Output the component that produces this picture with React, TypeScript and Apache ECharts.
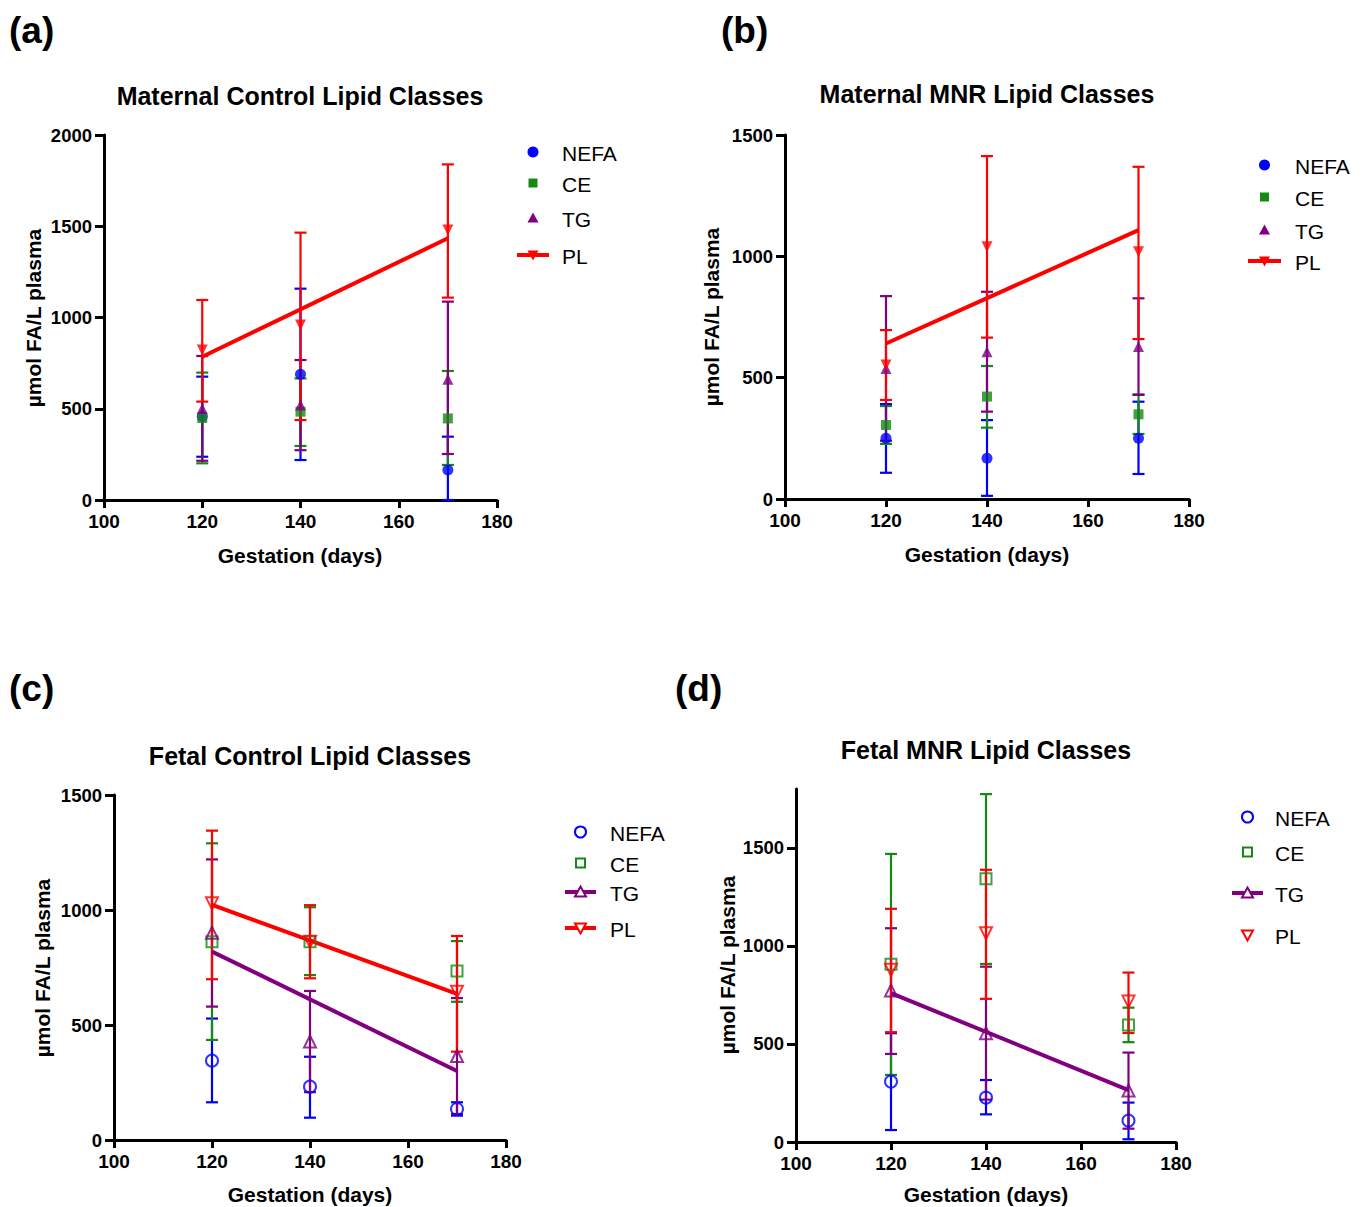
import React, { useEffect, useRef } from "react";
import * as echarts from "echarts";

// ---------- data ----------
const DAYS = [120, 140, 170];
const FIT_DAYS = [120, 170];
const CLASSES = ["NEFA", "CE", "TG", "PL"];
const TITLES = [
  "Maternal Control Lipid Classes",
  "Maternal MNR Lipid Classes",
  "Fetal Control Lipid Classes",
  "Fetal MNR Lipid Classes",
];
const PANEL_LABELS = ["(a)", "(b)", "(c)", "(d)"];
const Y_NAME = "\u00b5mol FA/L plasma";
const X_NAME = "Gestation (days)";
const Y_MAX = [2000, 1500, 1500, 1800];
const Y_TICKS_D = [0, 500, 1000, 1500];

// (a) Maternal Control
const A_NEFA = [457, 689, 164];
const A_NEFA_LO = [237, 219, 0];
const A_NEFA_HI = [676, 1158, 347];
const A_CE = [449, 484, 447];
const A_CE_LO = [201, 296, 192];
const A_CE_HI = [698, 666, 707];
const A_TG = [502, 520, 661];
const A_TG_LO = [215, 273, 252];
const A_TG_HI = [789, 767, 1087];
const A_PL = [822, 959, 1479];
const A_PL_LO = [539, 438, 1109];
const A_PL_HI = [1096, 1465, 1839];
const A_PL_FIT = [785, 1434];

// (b) Maternal MNR
const B_NEFA = [250, 168, 250];
const B_NEFA_LO = [108, 13, 103];
const B_NEFA_HI = [391, 325, 401];
const B_CE = [305, 422, 349];
const B_CE_LO = [227, 294, 268];
const B_CE_HI = [383, 548, 431];
const B_TG = [538, 607, 628];
const B_TG_LO = [240, 360, 429];
const B_TG_HI = [836, 854, 827];
const B_PL = [552, 1040, 1019];
const B_PL_LO = [408, 665, 659];
const B_PL_HI = [696, 1413, 1369];
const B_PL_FIT = [641, 1108];

// (c) Fetal Control
const C_NEFA = [345, 232, 135];
const C_NEFA_LO = [164, 97, 106];
const C_NEFA_HI = [528, 362, 164];
const C_CE = [862, 862, 735];
const C_CE_LO = [435, 717, 601];
const C_CE_HI = [1290, 1012, 865];
const C_TG = [901, 428, 365];
const C_TG_LO = [580, 208, 113];
const C_TG_HI = [1220, 648, 617];
const C_PL = [1029, 862, 645];
const C_PL_LO = [699, 703, 384];
const C_PL_HI = [1345, 1021, 887];
const C_TG_FIT = [819, 300];
const C_PL_FIT = [1022, 635];

// (d) Fetal MNR
const D_NEFA = [308, 226, 109];
const D_NEFA_LO = [61, 141, 14];
const D_NEFA_HI = [555, 316, 201];
const D_CE = [906, 1342, 597];
const D_CE_LO = [342, 908, 509];
const D_CE_HI = [1469, 1774, 685];
const D_TG = [772, 555, 262];
const D_TG_LO = [449, 216, 68];
const D_TG_HI = [1090, 894, 456];
const D_PL = [878, 1065, 716];
const D_PL_LO = [560, 730, 556];
const D_PL_HI = [1189, 1388, 864];
const D_TG_FIT = [759, 265];

const PANEL_DATA = [
  {
    mean: [A_NEFA, A_CE, A_TG, A_PL],
    lo: [A_NEFA_LO, A_CE_LO, A_TG_LO, A_PL_LO],
    hi: [A_NEFA_HI, A_CE_HI, A_TG_HI, A_PL_HI],
    fits: [{ cls: 3, values: A_PL_FIT }],
  },
  {
    mean: [B_NEFA, B_CE, B_TG, B_PL],
    lo: [B_NEFA_LO, B_CE_LO, B_TG_LO, B_PL_LO],
    hi: [B_NEFA_HI, B_CE_HI, B_TG_HI, B_PL_HI],
    fits: [{ cls: 3, values: B_PL_FIT }],
  },
  {
    mean: [C_NEFA, C_CE, C_TG, C_PL],
    lo: [C_NEFA_LO, C_CE_LO, C_TG_LO, C_PL_LO],
    hi: [C_NEFA_HI, C_CE_HI, C_TG_HI, C_PL_HI],
    fits: [
      { cls: 2, values: C_TG_FIT },
      { cls: 3, values: C_PL_FIT },
    ],
  },
  {
    mean: [D_NEFA, D_CE, D_TG, D_PL],
    lo: [D_NEFA_LO, D_CE_LO, D_TG_LO, D_PL_LO],
    hi: [D_NEFA_HI, D_CE_HI, D_TG_HI, D_PL_HI],
    fits: [{ cls: 2, values: D_TG_FIT }],
  },
];

// ---------- styling / layout ----------
const COLORS = ["#0000ff", "#148a14", "#800080", "#ff0000"];
const FONT = "'Liberation Sans', Arial, Helvetica, sans-serif";

const GRIDS = [
  { left: 104, top: 135, width: 393, height: 365 },
  { left: 785, top: 135, width: 404, height: 364 },
  { left: 114, top: 795, width: 392, height: 345 },
  { left: 796, top: 789, width: 380, height: 353 },
];
const TITLE_POS = [
  [300, 96],
  [987, 94],
  [310, 756],
  [986, 750],
];
const LABEL_POS = [
  [9, 30],
  [721, 30],
  [9, 688],
  [675, 688],
];
const YNAME_POS = [
  [33, 318],
  [711, 317],
  [42, 968],
  [727, 965],
];
const XNAME_POS = [
  [300, 555],
  [987, 554],
  [310, 1194],
  [986, 1194],
];
const LEGEND_LAYOUT = [
  { tx: 562, ys: [152, 183, 218, 255], lx: [517, 549] },
  { tx: 1295, ys: [165, 197, 230, 261], lx: [1248, 1281] },
  { tx: 610, ys: [832, 863, 892, 928], lx: [565, 596] },
  { tx: 1275, ys: [817, 852, 893, 935], lx: [1232, 1263] },
];
const LEGEND_LINE = [
  [false, false, false, true],
  [false, false, false, true],
  [false, false, true, true],
  [false, false, true, false],
];
const HOLLOW = [false, false, true, true];
const SYMBOLS = ["circle", "rect", "triangle", "triangle"];
const SYMBOL_ROTATE = [0, 0, 0, 180];

function errRender(color: string) {
  return (params: any, api: any) => {
    const x = api.value(0);
    const lo = api.coord([x, api.value(1)]);
    const hi = api.coord([x, api.value(2)]);
    const w = 6;
    const style = { stroke: color, lineWidth: 2.2 };
    return {
      type: "group",
      children: [
        { type: "line", shape: { x1: lo[0], y1: lo[1], x2: hi[0], y2: hi[1] }, style },
        { type: "line", shape: { x1: lo[0] - w, y1: lo[1], x2: lo[0] + w, y2: lo[1] }, style },
        { type: "line", shape: { x1: hi[0] - w, y1: hi[1], x2: hi[0] + w, y2: hi[1] }, style },
      ],
    };
  };
}

function legendMarker(cls: number, cx: number, cy: number, hollow: boolean): any {
  const color = COLORS[cls];
  const style = hollow
    ? { fill: "#fff", stroke: color, lineWidth: 2 }
    : { fill: color };
  if (cls === 0) return { type: "circle", shape: { cx, cy, r: 5.5 }, style, z: 10 };
  if (cls === 1)
    return {
      type: "rect",
      shape: { x: cx - 4.5, y: cy - 4.5, width: 9, height: 9 },
      style,
      z: 10,
    };
  const s = 5.5;
  const pts =
    cls === 2
      ? [
          [cx, cy - s],
          [cx + s, cy + s * 0.8],
          [cx - s, cy + s * 0.8],
        ]
      : [
          [cx, cy + s],
          [cx + s, cy - s * 0.8],
          [cx - s, cy - s * 0.8],
        ];
  return { type: "polygon", shape: { points: pts }, style, z: 10 };
}

function buildOption() {
  const grid: any[] = [];
  const xAxis: any[] = [];
  const yAxis: any[] = [];
  const series: any[] = [];
  const graphic: any[] = [];

  PANEL_DATA.forEach((pd, p) => {
    grid.push({ ...GRIDS[p], containLabel: false });
    xAxis.push({
      type: "value",
      gridIndex: p,
      min: 100,
      max: 180,
      interval: 20,
      splitLine: { show: false },
      axisLine: { show: true, onZero: false, lineStyle: { color: "#000", width: 3 } },
      axisTick: { show: true, length: 8, lineStyle: { color: "#000", width: 3 } },
      axisLabel: {
        color: "#000",
        fontFamily: FONT,
        fontWeight: "bold",
        fontSize: 19,
        margin: 12,
        formatter: (v: number) => String(v),
      },
    });
    const yAx: any = {
      type: "value",
      gridIndex: p,
      min: 0,
      max: Y_MAX[p],
      interval: 500,
      splitLine: { show: false },
      axisLine: { show: true, onZero: false, lineStyle: { color: "#000", width: 3 } },
      axisTick: { show: true, length: 9, lineStyle: { color: "#000", width: 3 } },
      axisLabel: {
        color: "#000",
        fontFamily: FONT,
        fontWeight: "bold",
        fontSize: 18.5,
        margin: 12,
        formatter: (v: number) => String(v),
      },
    };
    if (p === 3) {
      yAx.axisTick.customValues = Y_TICKS_D;
      yAx.axisLabel.customValues = Y_TICKS_D;
    }
    yAxis.push(yAx);

    const hollow = HOLLOW[p];
    CLASSES.forEach((name, k) => {
      series.push({
        type: "custom",
        name: name,
        xAxisIndex: p,
        yAxisIndex: p,
        renderItem: errRender(COLORS[k]),
        encode: { x: 0, y: [1, 2] },
        data: DAYS.map((d, j) => [d, pd.lo[k][j], pd.hi[k][j]]),
        z: 2,
        clip: false,
      });
    });
    pd.fits.forEach((f) => {
      series.push({
        type: "line",
        name: CLASSES[f.cls] + " fit",
        xAxisIndex: p,
        yAxisIndex: p,
        data: FIT_DAYS.map((d, j) => [d, f.values[j]]),
        symbol: "none",
        lineStyle: { color: COLORS[f.cls], width: 4 },
        z: 3,
      });
    });
    CLASSES.forEach((name, k) => {
      series.push({
        type: "scatter",
        name: name,
        xAxisIndex: p,
        yAxisIndex: p,
        symbol: SYMBOLS[k],
        symbolRotate: SYMBOL_ROTATE[k],
        symbolSize: hollow ? (k === 1 ? 11 : 12) : k === 1 ? 10 : 11,
        itemStyle: hollow
          ? { color: "rgba(255,255,255,0)", borderColor: COLORS[k], borderWidth: 2 }
          : { color: COLORS[k] },
        data: DAYS.map((d, j) => [d, pd.mean[k][j]]),
        z: 4,
      });
    });

    graphic.push({
      type: "text",
      x: TITLE_POS[p][0],
      y: TITLE_POS[p][1],
      style: {
        text: TITLES[p],
        font: `bold 25px ${FONT}`,
        fill: "#000",
        align: "center",
        verticalAlign: "middle",
      },
    });
    graphic.push({
      type: "text",
      x: LABEL_POS[p][0],
      y: LABEL_POS[p][1],
      style: {
        text: PANEL_LABELS[p],
        font: `bold 37px ${FONT}`,
        fill: "#000",
        align: "left",
        verticalAlign: "middle",
      },
    });
    graphic.push({
      type: "text",
      x: YNAME_POS[p][0],
      y: YNAME_POS[p][1],
      rotation: Math.PI / 2,
      style: {
        text: Y_NAME,
        font: `bold 21px ${FONT}`,
        fill: "#000",
        align: "center",
        verticalAlign: "middle",
      },
    });
    graphic.push({
      type: "text",
      x: XNAME_POS[p][0],
      y: XNAME_POS[p][1],
      style: {
        text: X_NAME,
        font: `bold 21px ${FONT}`,
        fill: "#000",
        align: "center",
        verticalAlign: "middle",
      },
    });

    const L = LEGEND_LAYOUT[p];
    CLASSES.forEach((name, k) => {
      const cy = L.ys[k];
      if (LEGEND_LINE[p][k]) {
        graphic.push({
          type: "line",
          shape: { x1: L.lx[0], y1: cy, x2: L.lx[1], y2: cy },
          style: { stroke: COLORS[k], lineWidth: 4 },
          z: 9,
        });
      }
      graphic.push(legendMarker(k, (L.lx[0] + L.lx[1]) / 2, cy, hollow));
      graphic.push({
        type: "text",
        x: L.tx,
        y: cy + 1,
        style: {
          text: name,
          font: `21px ${FONT}`,
          fill: "#000",
          align: "left",
          verticalAlign: "middle",
        },
      });
    });
  });

  return {
    animation: false,
    backgroundColor: "#fff",
    grid,
    xAxis,
    yAxis,
    series,
    graphic,
  };
}

export default function App() {
  const ref = useRef<HTMLDivElement>(null);
  useEffect(() => {
    if (!ref.current) return;
    const chart = echarts.init(ref.current, null, { renderer: "svg" });
    chart.setOption(buildOption() as any);
    return () => chart.dispose();
  }, []);
  return (
    <div
      ref={ref}
      style={{ position: "absolute", left: 0, top: 0, width: 1368, height: 1207 }}
    />
  );
}
